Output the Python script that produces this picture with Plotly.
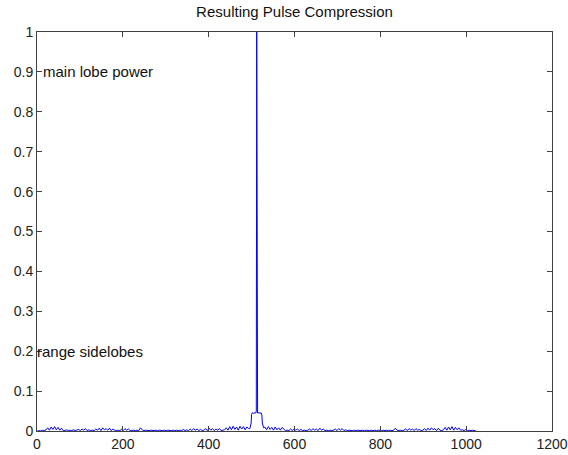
import plotly.graph_objects as go

# ---- data ----
# left sidelobes: samples 1, 5, 9, ... (step 4), values in units of 1e-3
left_start = 1
left_step = 4
left_vals_milli = [0, 1, 0, 2, 1,
                   3, 8, 2, 10, 4, 11, 3, 9, 2, 7, 1,
                   1, 3, 1, 2, 1, 3, 1, 2,
                   4, 1, 5, 2, 6, 1, 3,
                   1, 2, 1,
                   5, 2, 7, 1, 8, 3, 6, 2, 7, 1, 5, 2,
                   1, 2, 1,
                   4, 1, 6, 2, 5, 1,
                   1, 2, 1, 2, 1, 8,
                   3, 1, 2, 1, 1, 2, 1, 1, 2, 1, 2, 1, 1, 2, 1, 2, 1, 1, 2, 1, 2, 1, 2,
                   1, 4, 1, 3, 1,
                   5, 1, 6, 2, 5, 1, 4,
                   1, 2,
                   6, 1, 7, 2, 6, 1, 5, 2, 6, 1,
                   2, 3,
                   8, 2, 11, 3, 12, 4, 10, 2, 12, 5, 11, 3, 10, 6]

# main lobe region (explicit samples)
peak_samples = [496, 499, 500, 502, 505, 508, 510, 511, 512, 513, 514, 517, 520, 522, 524, 525, 528]
peak_values = [0.006, 0.02, 0.042, 0.046, 0.044, 0.046, 0.045, 0.05, 1.0, 0.05, 0.045,
               0.046, 0.044, 0.046, 0.04, 0.02, 0.008]

# right sidelobes: samples 531, 535, ... (step 4), values in units of 1e-3
right_start = 531
right_step = 4
right_vals_milli = [10, 3, 11, 4, 9, 2, 10, 3, 8, 2, 9, 4,
                    1, 2, 1,
                    5, 1, 6, 2, 5, 1, 4,
                    1, 2, 1, 2,
                    5, 1, 6, 2, 5, 1, 7, 2, 5, 1,
                    2, 1, 2, 1, 2,
                    5, 1, 6, 2, 6, 1, 3,
                    1, 2, 1, 1, 2, 1, 2, 1, 1, 2, 1, 2, 1, 1, 2, 1, 2, 1, 2, 1, 1, 2, 1, 2, 1, 2, 1, 2,
                    7, 2,
                    1, 2, 1, 2,
                    5, 1, 6, 2, 5, 1, 6, 2, 4,
                    1, 2,
                    6, 1, 7, 2, 8, 3, 6, 1, 7, 2,
                    1, 3,
                    9, 2, 10, 3, 11, 2, 9, 3, 8, 2,
                    3, 1, 4, 1, 2, 1, 2, 1, 0]

x_ticks = [0, 200, 400, 600, 800, 1000, 1200]
y_ticks = [0, 0.1, 0.2, 0.3, 0.4, 0.5, 0.6, 0.7, 0.8, 0.9, 1]
y_tick_labels = ["0", "0.1", "0.2", "0.3", "0.4", "0.5", "0.6", "0.7", "0.8", "0.9", "1"]

title_text = "Resulting Pulse Compression"
label_main = "main lobe power"
label_side = "range sidelobes"

# ---- assemble series ----
left_x = [left_start + i * left_step for i in range(len(left_vals_milli))]
left_y = [v / 1000 for v in left_vals_milli]
right_x = [right_start + i * right_step for i in range(len(right_vals_milli))]
right_y = [v / 1000 for v in right_vals_milli]

xs = left_x + peak_samples + right_x
ys = left_y + peak_values + right_y

fig = go.Figure()
fig.add_trace(go.Scatter(x=xs, y=ys, mode="lines",
                         line=dict(color="#0000FF", width=1),
                         showlegend=False, hoverinfo="skip"))

font_family = "Liberation Sans, Arial, sans-serif"

fig.add_annotation(x=10, y=0.9, xref="x", yref="y", text=label_main,
                   showarrow=False, xanchor="left", yanchor="middle",
                   font=dict(family=font_family, size=15, color="#111111"))
fig.add_annotation(x=0, y=0.2, xref="x", yref="y", text=label_side, xshift=-2,
                   showarrow=False, xanchor="left", yanchor="middle",
                   font=dict(family=font_family, size=15, color="#111111"))

axis_common = dict(showline=True, linecolor="#404040", linewidth=1, mirror="ticks",
                   ticks="inside", ticklen=5, tickcolor="#404040", showgrid=False,
                   zeroline=False, automargin=False, ticklabeloverflow="allow",
                   tickfont=dict(family=font_family, size=14, color="#222222"))

fig.update_xaxes(range=[0, 1200], tickvals=x_ticks, ticktext=[str(t) for t in x_ticks],
                 **axis_common)
fig.update_yaxes(range=[0, 1], tickvals=y_ticks, ticktext=y_tick_labels, **axis_common)

fig.update_layout(
    width=568, height=455,
    paper_bgcolor="white", plot_bgcolor="white",
    margin=dict(l=37, r=16, t=32, b=24, autoexpand=False),
    title=dict(text=title_text, x=0.5, xref="paper", y=1 - 12 / 455, yanchor="middle",
               font=dict(family=font_family, size=15, color="#111111")),
)

fig.write_html("out.html", config={"displayModeBar": False},
               post_script="document.body.style.margin='0';")
